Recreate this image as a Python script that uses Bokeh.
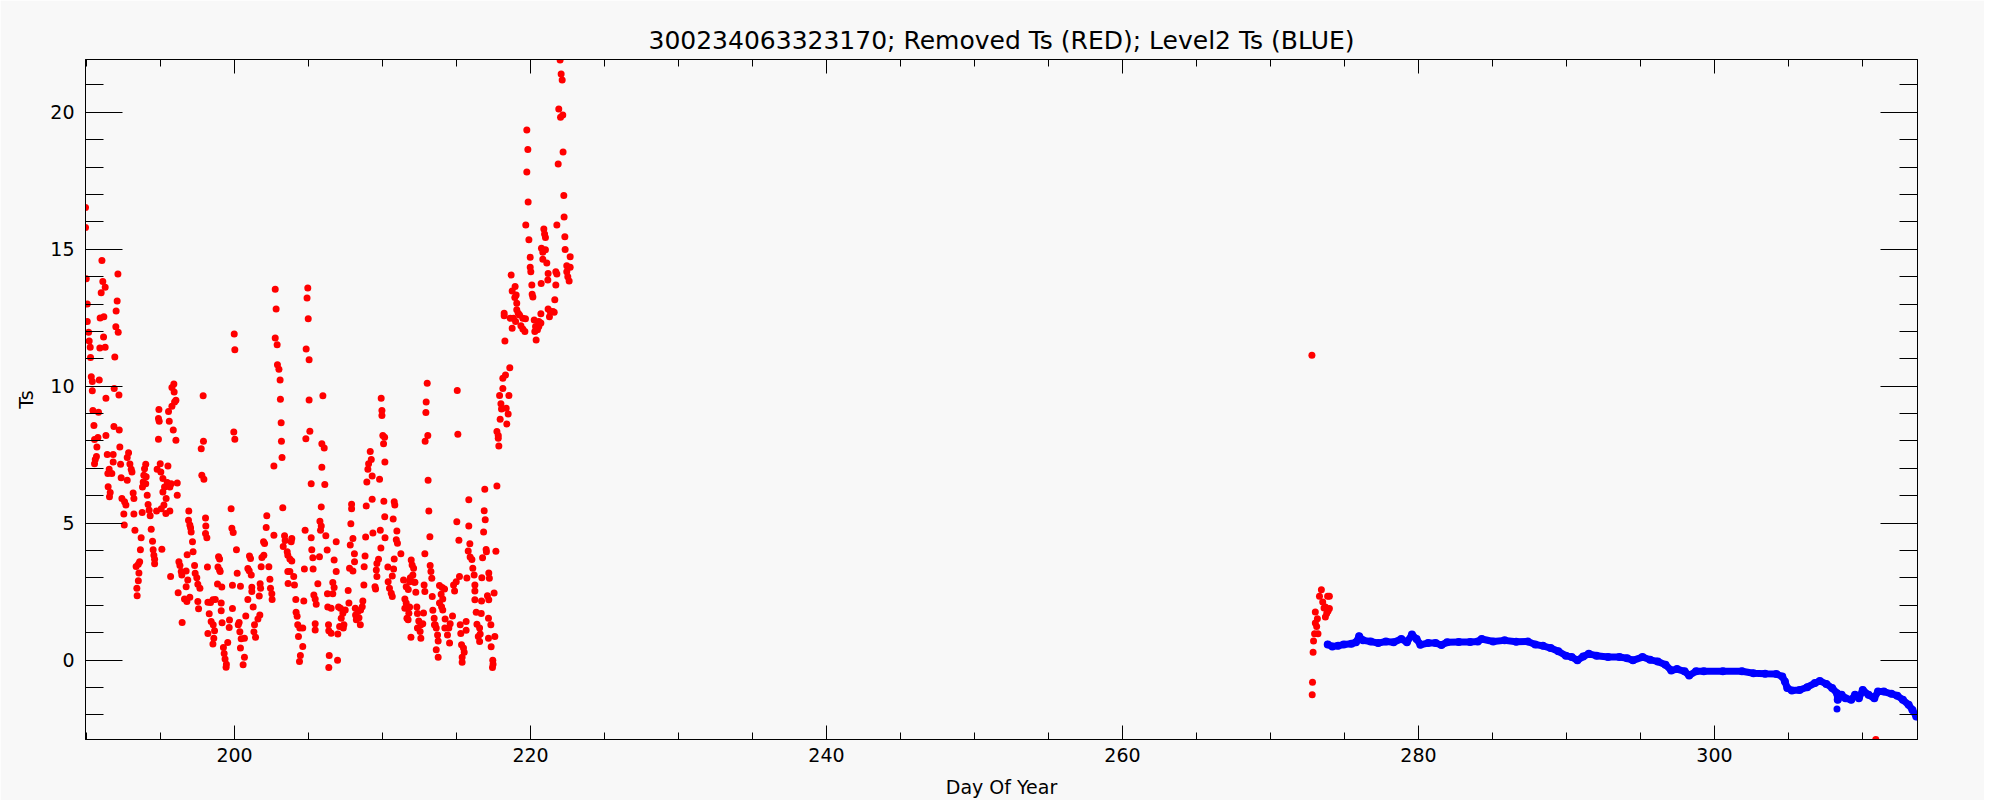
from bokeh.plotting import figure
from bokeh.models import Range1d, SingleIntervalTicker, LinearAxis, CustomJSTickFormatter
from bokeh.embed import file_html
from bokeh.resources import INLINE

TITLE = "300234063323170; Removed Ts (RED); Level2 Ts (BLUE)"
X_LABEL = "Day Of Year"
Y_LABEL = "Ts"

# Removed Ts (red) : day of year / value
red_day = [
    189.93, 189.93, 191.04, 192.12, 189.98, 191.10, 191.26, 190.99, 202.75, 204.95, 204.90, 190.05, 192.07, 192.00,
    202.81, 204.98, 190.05, 190.92, 191.17, 190.14, 191.98, 192.14, 191.15, 190.18, 190.25, 190.90, 191.26, 199.98,
    200.02, 202.75, 202.88, 204.84, 205.04, 190.27, 191.91, 202.90, 203.00, 203.08, 190.32, 190.39, 190.86, 191.87,
    190.39, 192.19, 191.31, 195.90, 195.77, 195.92, 197.88, 205.97, 203.10, 205.04,
    190.43, 190.81, 190.50, 191.85, 192.21, 191.31, 190.77, 190.54, 190.70, 192.25, 190.67, 190.59, 190.54, 191.40,
    191.80, 192.84, 192.75, 191.80, 192.30, 192.93, 193.02, 193.07, 191.53, 191.71, 191.44, 192.34, 192.75, 191.46,
    191.60, 191.55, 194.00, 193.92, 193.87, 193.83, 193.78, 194.03, 194.00, 193.15, 193.20, 194.10, 192.39, 192.57,
    192.66, 192.52, 192.55, 194.16, 194.23, 194.30, 193.20, 193.76, 194.86, 194.86, 194.91, 194.89, 195.54, 195.77,
    195.95, 196.04, 195.59, 195.86, 196.04, 194.98, 194.77, 195.02, 195.50, 195.16, 195.27, 195.45, 195.63, 195.72,
    196.13, 196.13, 195.16, 195.38, 195.23, 195.05, 194.73, 195.63, 195.36, 196.91, 196.89, 196.98, 197.07, 197.90,
    197.75, 197.79, 197.93, 199.95, 200.02, 199.77, 203.15, 203.17, 203.21, 202.66, 203.26, 205.09, 204.82, 205.90,
    206.06, 205.90, 205.18, 206.10, 205.86, 202.18, 202.14, 193.27, 193.69, 194.37, 194.46, 193.64, 194.50, 194.55,
    194.60, 194.60, 195.09, 193.59, 193.50, 193.35, 193.54, 193.50, 193.40, 193.42, 197.03, 197.16, 197.20, 196.80,
    196.24, 196.31, 196.40, 196.44, 195.68, 196.73, 196.84, 196.73, 196.62, 196.78, 196.19, 197.30, 197.34, 197.45,
    197.52, 197.66, 196.98, 197.52, 197.57, 196.46, 198.04, 198.06, 198.04, 198.13, 198.17, 198.92, 198.99, 198.88,
    198.99, 199.03, 198.85, 199.14, 199.86, 200.40, 198.20, 198.38, 198.54, 198.70, 199.10, 199.10, 199.86, 198.29,
    198.42, 198.56, 198.65, 198.60, 198.54, 198.20, 199.16, 199.66, 199.64, 199.54, 199.25, 199.30, 199.36, 199.45,
    199.43, 199.82, 199.91, 200.13, 200.18, 201.01, 201.08, 200.90, 200.99, 201.13, 201.17, 201.17, 200.90, 201.26,
    200.31, 200.25, 200.36, 200.45, 200.40, 200.67, 200.58, 200.67, 200.76, 201.35, 201.31, 201.42, 201.58, 201.71,
    201.85, 201.98, 202.03, 201.96, 201.73, 201.76, 201.80, 202.32, 202.39, 202.43, 202.52, 202.54, 202.66, 201.67,
    203.38, 203.42, 203.29, 203.56, 203.83, 203.87, 203.60, 203.74, 203.87, 203.60, 203.74, 204.00, 203.62, 204.05,
    204.14, 204.16, 204.23, 204.27, 204.41, 204.61, 204.32, 204.61, 204.45, 204.39, 204.68, 204.72, 204.77, 205.18,
    205.22, 205.29, 205.31, 205.74, 205.63, 205.36, 205.45, 205.52, 205.45, 205.45, 205.77, 205.86, 205.81, 206.17,
    206.26, 206.28, 206.30, 206.35, 206.37, 206.40, 206.37,
    222.00, 222.07, 222.14, 221.91, 222.03, 222.18, 219.75, 219.82, 222.20, 221.87, 219.75, 222.25, 219.84, 222.27,
    219.68, 221.78, 220.90, 220.95, 221.01, 222.32, 219.89, 220.74, 221.01, 220.83, 222.34, 222.68, 219.98, 220.83,
    221.10, 222.45, 222.68, 222.45, 222.52, 222.61, 219.98, 220.02, 221.71, 221.78, 221.19, 221.17, 218.69, 220.09,
    220.72, 221.71, 218.96, 218.76, 219.03, 218.94, 219.07, 220.11, 220.16, 221.64, 218.22, 218.22, 219.07, 219.17,
    218.63, 218.85, 218.99, 219.26, 219.48, 219.66, 219.35, 219.48, 219.62, 218.76, 221.19, 221.33, 221.51, 221.28,
    221.60, 220.70, 220.25, 220.56, 220.70, 220.34, 220.47, 220.29, 220.38, 220.56, 218.27, 218.60, 218.31, 218.13,
    218.13, 213.02, 215.05, 209.91,
    217.91, 218.54, 218.00, 218.04, 218.36, 218.49, 217.95, 218.40, 217.73, 217.82, 217.82, 217.86, 217.73, 216.91,
    215.83, 216.87, 216.94, 215.02, 215.83, 216.83, 215.16, 215.90, 217.00, 217.02, 217.66, 215.79, 215.92, 216.04,
    216.76, 216.10, 216.19, 216.24, 216.24, 215.20, 214.98, 214.87, 214.80, 215.70, 217.18, 217.22, 217.09, 217.18,
    217.54, 216.71, 216.69, 216.24, 216.33, 216.67, 217.16, 217.32, 216.38, 216.56, 216.60, 216.47, 216.56, 217.16,
    217.59, 217.34, 217.45, 217.47, 217.43, 215.34, 215.47, 215.52, 215.38, 215.38, 215.25, 215.29, 215.65, 215.65,
    214.73, 214.57, 214.48, 214.21, 214.39, 214.53, 213.85, 214.03, 214.19, 213.96, 214.07, 213.85, 213.99, 214.07,
    214.23, 213.56, 212.32, 212.36, 212.77, 212.45, 212.59, 212.54, 212.72, 212.59, 212.36, 212.81, 212.86, 212.25,
    212.19, 211.94, 212.00, 212.10, 212.05, 211.88, 211.83, 212.14, 211.60, 211.74, 211.42, 211.51, 211.60, 211.69,
    211.51, 211.78, 211.65, 211.73, 211.83, 211.92, 211.24, 210.79, 210.75, 210.66, 210.36, 210.38, 210.47, 210.59,
    210.66, 210.93, 211.01, 210.97, 210.72, 210.79, 210.83, 210.15, 210.17, 210.09, 209.85, 209.89, 209.73, 209.62,
    209.58, 209.62, 209.49, 209.53, 209.30, 208.90, 208.86, 209.35, 208.82, 208.76, 208.74, 207.91, 207.91, 207.86,
    208.00, 207.82, 208.10, 207.77, 208.00, 208.11, 208.67, 208.63, 208.52, 208.34, 208.41, 208.18, 208.23, 208.50,
    208.16, 207.68, 207.73, 206.87, 206.73, 206.87, 206.64, 206.73, 206.64, 206.53, 207.03, 207.16, 207.32, 207.21,
    207.48, 207.39, 207.35, 207.10, 206.53, 206.98, 206.96, 209.96, 209.96, 210.02, 210.14, 210.07, 210.16, 209.17,
    209.24, 209.06, 209.01, 209.30, 208.94, 209.80, 212.95, 212.93, 213.06, 212.88, 215.09, 213.08, 213.13, 213.20,
    212.86, 213.22, 213.27, 213.33, 213.36, 213.40, 213.49, 213.51, 213.63, 213.72, 213.76, 213.63, 213.76,
    272.80, 273.44, 273.31, 273.98, 273.53, 273.71, 273.98, 273.80, 273.71, 273.89, 273.03, 273.17, 273.03, 273.12,
    272.98, 273.21, 272.91, 272.88, 272.84, 272.82, 273.86, 273.62,
    310.90,
]
red_ts = [
    16.53, 15.80, 14.59, 14.10, 13.92, 13.82, 13.61, 13.41, 13.54, 13.59, 13.22, 13.00, 13.11, 12.75,
    12.82, 12.46, 12.36, 12.49, 12.54, 11.97, 12.17, 11.97, 11.80, 11.65, 11.42, 11.40, 11.42, 11.91,
    11.33, 11.76, 11.51, 11.36, 10.97, 11.05, 11.07, 10.78, 10.62, 10.23, 10.35, 10.17, 10.23, 9.92,
    9.83, 9.68, 9.56, 10.08, 9.95, 9.79, 9.65, 9.65, 9.52, 9.50,
    9.11, 9.05, 8.57, 8.53, 8.40, 8.20, 8.13, 8.05, 7.78, 7.78, 7.43, 7.32, 7.17, 7.51,
    7.51, 7.57, 7.40, 7.23, 7.15, 7.16, 6.97, 6.87, 6.97, 6.81, 6.81, 6.66, 6.57, 6.33,
    6.12, 5.96, 7.15, 6.99, 6.75, 6.50, 6.32, 6.69, 6.44, 6.10, 5.90, 6.02, 5.90, 5.78,
    5.66, 5.33, 4.93, 5.68, 5.47, 5.27, 5.33, 5.39, 8.06, 8.82, 8.72, 9.15, 9.08, 9.27,
    9.42, 9.49, 8.72, 8.40, 8.03, 7.17, 6.97, 6.87, 7.09, 6.63, 6.32, 6.48, 6.32, 6.44,
    6.47, 6.02, 6.14, 5.90, 5.66, 5.53, 5.44, 5.44, 5.35, 5.44, 5.11, 4.93, 4.68, 7.99,
    7.72, 6.75, 6.60, 8.33, 8.06, 5.53, 8.67, 7.99, 7.40, 7.09, 5.56, 8.36, 8.08, 7.90,
    7.74, 7.04, 6.44, 6.41, 5.59, 5.27, 4.84, 4.74, 4.47, 4.78, 4.34, 4.03, 4.03, 3.83,
    3.68, 3.52, 4.05, 3.59, 3.50, 3.42, 3.18, 2.90, 2.62, 2.35, 4.83, 4.32, 3.96, 3.85,
    3.59, 3.45, 3.23, 3.11, 3.05, 3.25, 2.92, 2.68, 2.23, 2.14, 2.46, 3.45, 3.17, 3.01,
    2.77, 2.62, 2.29, 2.14, 1.87, 1.37, 5.19, 4.90, 4.62, 4.47, 3.40, 3.77, 3.69, 3.40,
    3.29, 3.23, 2.78, 2.67, 2.73, 2.70, 2.11, 2.10, 2.20, 2.21, 2.08, 1.80, 1.88, 1.69,
    1.41, 1.29, 1.07, 0.80, 0.59, 0.97, 1.36, 1.46, 1.19, 0.64, 0.46, 0.24, 0.04, -0.15,
    -0.26, 4.81, 4.66, 4.03, 3.17, 3.80, 3.71, 3.34, 3.26, 3.11, 2.66, 2.50, 2.21, 1.94,
    1.37, 1.29, 1.03, 0.78, 0.44, 0.80, -0.17, 0.10, 1.61, 1.29, 1.03, 0.83, 1.50, 1.65,
    3.75, 3.83, 4.26, 4.32, 2.79, 2.62, 3.41, 3.41, 2.95, 2.62, 2.42, 2.21, 4.56, 2.34,
    4.54, 4.37, 4.15, 3.96, 4.32, 4.44, 3.83, 3.69, 3.62, 3.23, 3.23, 3.05, 2.80, 2.74,
    2.21, 1.75, 1.60, 1.29, 1.17, 1.17, 0.86, 0.50, 0.17, -0.05, 2.16, 3.33, 4.74, 4.47,
    4.03, 3.74, 3.33, 3.77, 2.79, 2.38, 2.23, 2.04, 1.33, 1.10, 5.07, 4.90, 4.74, 4.54,
    4.02, 2.42, 1.94, 1.29, 1.07, 0.17, -0.27,
    21.91, 21.40, 21.18, 20.12, 19.82, 19.90, 19.36, 18.64, 18.55, 18.11, 17.82, 16.96, 16.73, 16.18,
    15.89, 15.89, 15.74, 15.56, 15.43, 15.46, 15.35, 15.04, 14.98, 14.89, 14.99, 14.73, 14.71, 14.64,
    14.50, 14.40, 14.34, 14.18, 14.00, 13.84, 14.34, 14.18, 14.18, 14.10, 14.12, 13.88, 14.06, 13.70,
    13.75, 13.70, 13.64, 13.48, 13.33, 13.24, 13.03, 13.36, 13.26, 13.16, 12.66, 12.57, 12.79, 12.66,
    12.48, 12.48, 12.36, 12.60, 12.48, 12.46, 12.21, 12.09, 12.00, 12.12, 12.82, 12.73, 12.73, 12.54,
    12.70, 12.65, 12.42, 12.36, 12.31, 12.18, 12.06, 12.00, 11.69, 12.18, 11.65, 10.67, 10.41, 10.29,
    9.92, 10.11, 9.84, 9.56,
    9.66, 9.66, 9.36, 9.17, 9.20, 8.99, 8.79, 8.62, 8.35, 8.20, 8.10, 7.82, 6.36, 6.24,
    5.85, 5.45, 5.12, 5.05, 4.90, 4.68, 4.38, 4.25, 4.04, 3.96, 3.97, 3.98, 3.76, 3.67,
    3.74, 3.35, 3.11, 2.74, 2.52, 3.05, 2.86, 2.52, 2.74, 3.00, 3.18, 2.99, 2.35, 2.20,
    2.45, 3.01, 2.16, 2.20, 1.75, 1.70, 1.53, 1.29, 1.31, 1.17, 0.95, 0.86, 0.68, 0.80,
    0.86, 0.49, -0.01, -0.15, -0.27, 0.56, 0.44, 0.29, 0.10, -0.08, 1.29, 0.97, 1.41, 1.09,
    1.61, 1.33, 1.17, 1.17, 0.92, 0.62, 2.72, 2.65, 2.60, 2.40, 2.23, 2.08, 1.95, 1.83,
    1.50, 1.29, 1.94, 1.70, 1.72, 1.43, 1.29, 1.04, 1.33, 0.80, 1.17, 2.74, 2.50, 2.48,
    2.84, 3.65, 3.47, 3.35, 3.11, 3.01, 2.86, 2.84, 2.68, 2.58, 2.92, 2.23, 2.08, 1.89,
    1.89, 1.71, 1.53, 1.47, 1.94, 0.83, 3.88, 3.69, 3.33, 3.07, 3.40, 2.86, 2.62, 2.44,
    2.32, 4.39, 4.27, 4.71, 5.15, 5.78, 5.66, 5.23, 4.47, 5.80, 4.74, 4.09, 3.68, 3.53,
    3.29, 3.05, 2.68, 2.60, 5.87, 5.63, 4.49, 4.64, 3.80, 3.41, 2.74, 5.69, 5.53, 4.98,
    4.44, 4.20, 3.88, 3.35, 3.25, 3.59, 2.16, 1.95, 1.83, 1.77, 1.55, 1.65, 1.47, 1.29,
    1.89, 2.54, 2.08, 4.32, 3.65, 3.23, 2.83, 2.65, 2.42, 1.89, 1.94, 1.89, 1.71, 1.53,
    1.83, 1.29, 1.17, 1.23, 0.98, 0.95, -0.01, 9.11, 8.93, 8.20, 8.14, 7.90, 7.23, 7.62,
    7.32, 7.17, 6.97, 6.72, 6.50, 6.60, 9.42, 9.04, 8.20, 7.99, 8.25, 6.57, 5.44, 4.50,
    3.88, 3.45, 3.23, 2.99, 2.32, 1.82, 1.53, 1.29, 1.17, 0.92, 0.70, 0.38, 0.10,
    11.13, 2.57, 2.33, 2.33, 2.12, 1.94, 1.88, 1.70, 1.57, 1.79, 1.76, 1.51, 1.35, 1.23,
    0.96, 0.96, 0.70, 0.29, -0.81, -1.27, 2.33, 1.90,
    -2.90,
]

# Level2 Ts (blue)
blue_day = [
    273.87, 274.18, 274.57, 274.95, 275.47, 275.78, 275.99, 276.25, 276.77, 277.28, 277.80, 278.32, 278.84, 279.22,
    279.56, 279.87, 280.13, 280.65, 281.16, 281.55, 281.94, 282.72, 283.49, 284.01, 284.27, 285.05, 285.82, 286.60,
    287.38, 287.89, 288.41, 288.93, 289.45, 289.96, 290.35, 290.74, 291.13, 291.51, 292.03, 292.81, 293.58, 294.10,
    294.49, 295.14, 295.65, 296.17, 296.69, 297.08, 297.47, 297.98, 298.29, 298.76, 299.28, 300.57, 301.86, 302.64,
    303.42, 304.19, 304.58, 304.76, 304.92, 305.23, 305.75, 306.27, 306.79, 307.12, 307.56, 307.95, 308.28, 308.33,
    308.59, 308.85, 309.24, 309.50, 309.76, 310.02, 310.41, 310.80, 311.05, 311.44, 311.96, 312.35, 312.73, 313.12,
    313.38, 313.64,
]
blue_ts = [
    0.57, 0.50, 0.52, 0.57, 0.60, 0.65, 0.87, 0.72, 0.68, 0.62, 0.68, 0.65, 0.77, 0.65,
    0.93, 0.77, 0.56, 0.62, 0.62, 0.55, 0.65, 0.66, 0.66, 0.68, 0.77, 0.68, 0.72, 0.67,
    0.68, 0.57, 0.52, 0.44, 0.32, 0.16, 0.11, -0.01, 0.13, 0.23, 0.16, 0.11, 0.11, 0.07,
    -0.01, 0.11, 0.01, -0.05, -0.17, -0.38, -0.33, -0.41, -0.56, -0.41, -0.41, -0.41, -0.41, -0.48,
    -0.50, -0.51, -0.60, -0.78, -1.02, -1.11, -1.09, -0.99, -0.84, -0.76, -0.87, -1.02, -1.21, -1.45,
    -1.27, -1.39, -1.45, -1.27, -1.39, -1.09, -1.27, -1.39, -1.15, -1.15, -1.23, -1.30, -1.45, -1.63,
    -1.82, -2.06,
]
blue_out_day = [308.28]
blue_out_ts = [-1.79]

X_MIN, X_MAX = 189.93, 313.72
Y_MIN, Y_MAX = -2.90, 21.93

BG = "#f8f8f8"
FONT = "DejaVu Sans"

p = figure(width=1984, height=800, x_range=Range1d(X_MIN, X_MAX), y_range=Range1d(Y_MIN, Y_MAX),
           output_backend="svg", toolbar_location=None, title=TITLE,
           x_axis_label=X_LABEL, y_axis_label=Y_LABEL,
           background_fill_color=BG, border_fill_color=BG,
           min_border_left=85, min_border_right=67, min_border_top=59, min_border_bottom=61)
p.grid.visible = False
p.outline_line_color = "black"
p.outline_line_width = 1

p.title.text_font = FONT
p.title.text_font_style = "normal"
p.title.text_font_size = "25px"
p.title.align = "center"
p.title.text_color = "black"
p.title.standoff = 9

xt = SingleIntervalTicker(interval=20, num_minor_ticks=4)
yt = SingleIntervalTicker(interval=5, num_minor_ticks=5)

def style_axis(ax, ticker, major, minor):
    ax.ticker = ticker
    ax.axis_line_color = "black"
    ax.major_tick_line_color = "black"
    ax.minor_tick_line_color = "black"
    ax.major_tick_in = major
    ax.major_tick_out = 0
    ax.minor_tick_in = minor
    ax.minor_tick_out = 0
    ax.major_label_text_font = FONT
    ax.major_label_text_font_size = "19px"
    ax.major_label_text_color = "black"
    ax.axis_label_text_font = FONT
    ax.axis_label_text_font_style = "normal"
    ax.axis_label_text_font_size = "19px"
    ax.axis_label_text_color = "black"

style_axis(p.xaxis[0], xt, 14, 7)
style_axis(p.yaxis[0], yt, 37, 18)
p.xaxis[0].major_label_standoff = 8
p.xaxis[0].axis_label_standoff = 11
p.yaxis[0].major_label_standoff = 11
p.yaxis[0].axis_label_standoff = 10

blank = CustomJSTickFormatter(code="return ''")
top = LinearAxis(formatter=blank)
right = LinearAxis(formatter=blank)
style_axis(top, SingleIntervalTicker(interval=20, num_minor_ticks=4), 14, 7)
style_axis(right, SingleIntervalTicker(interval=5, num_minor_ticks=5), 37, 18)
for ax in (top, right):
    ax.major_label_text_font_size = "1px"
    ax.major_label_standoff = 0
p.add_layout(top, "above")
p.add_layout(right, "right")

p.scatter(red_day, red_ts, size=7, color="#ff0000", line_color=None)
p.line(blue_day, blue_ts, line_width=7, color="#0000ff", line_join="round", line_cap="round")
p.scatter(blue_day, blue_ts, size=8, color="#0000ff", line_color=None)
p.scatter(blue_out_day, blue_out_ts, size=7, color="#0000ff", line_color=None)

open("out.html", "w").write(file_html(p, INLINE))
